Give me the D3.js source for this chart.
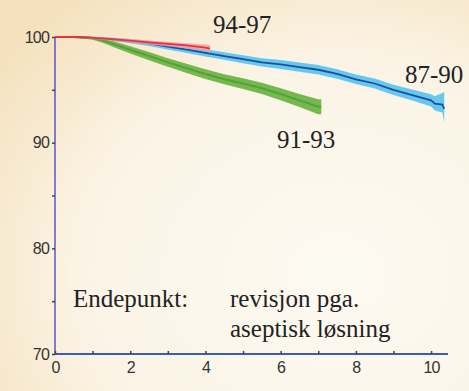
<!DOCTYPE html>
<html>
<head>
<meta charset="utf-8">
<script src="https://cdn.jsdelivr.net/npm/d3@7"></script>
<style>
  html, body { margin: 0; padding: 0; }
  svg { display: block; }
</style>
</head>
<body>
<svg id="chart" width="469" height="391"></svg>
<script>
// data
const years = [0, 2, 4, 6, 8, 10];
const yTicks = [70, 75, 80, 85, 90, 95, 100];
const yLabels = [70, 80, 90, 100];

// 94-97 (rød)
const t9497 = [0, 0.5, 0.8, 1, 1.5, 2, 2.5, 3, 3.5, 4, 4.12];
const v9497 = [100, 100, 99.97, 99.92, 99.8, 99.65, 99.5, 99.35, 99.2, 99.0, 98.9];
const lo9497 = [100, 100, 99.9, 99.82, 99.66, 99.48, 99.3, 99.12, 98.92, 98.7, 98.5];
const hi9497 = [100, 100, 100, 100, 99.92, 99.8, 99.68, 99.55, 99.42, 99.28, 99.25];

// 87-90 (blå)
const t8790 = [0, 0.5, 1, 1.5, 2, 2.5, 3, 3.5, 4, 4.5, 5, 5.5, 6, 6.5, 7, 7.5, 8, 8.5, 9, 9.5, 10, 10.1, 10.3, 10.35];
const v8790 = [100, 100, 99.95, 99.8, 99.6, 99.4, 99.1, 98.8, 98.5, 98.2, 97.9, 97.6, 97.4, 97.15, 96.9, 96.5, 96.0, 95.6, 95.0, 94.5, 94.0, 93.7, 93.6, 93.2];
const lo8790 = [100, 99.95, 99.85, 99.65, 99.4, 99.15, 98.82, 98.48, 98.16, 97.84, 97.52, 97.2, 96.98, 96.72, 96.46, 96.05, 95.55, 95.13, 94.52, 93.98, 93.42, 93.05, 92.85, 91.9];
const hi8790 = [100, 100, 100, 99.95, 99.8, 99.65, 99.38, 99.12, 98.84, 98.56, 98.28, 98.0, 97.82, 97.58, 97.34, 96.95, 96.45, 96.07, 95.48, 95.02, 94.58, 94.4, 94.7, 94.8];

// 91-93 (grønn)
const t9193 = [0, 0.5, 1, 1.25, 1.5, 2, 2.5, 3, 3.5, 4, 4.5, 5, 5.5, 6, 6.5, 7, 7.08];
const v9193 = [100, 100, 99.9, 99.7, 99.4, 98.8, 98.2, 97.6, 97.05, 96.5, 96.0, 95.6, 95.15, 94.6, 94.0, 93.4, 93.4];
const lo9193 = [100, 99.95, 99.75, 99.48, 99.12, 98.45, 97.8, 97.18, 96.6, 96.03, 95.52, 95.08, 94.6, 94.02, 93.38, 92.7, 92.7];
const hi9193 = [100, 100, 100, 99.9, 99.66, 99.12, 98.58, 98.0, 97.48, 96.95, 96.48, 96.1, 95.68, 95.16, 94.6, 94.1, 94.1];

const texts = {
  s9497: "94-97", s8790: "87-90", s9193: "91-93",
  end: "Endepunkt:", l1: "revisjon pga.", l2: "aseptisk løsning"
};

const svg = d3.select("#chart");
const W = 469, H = 391;
const serif = "'Liberation Serif'";
const sans = "'Liberation Sans', Arial, sans-serif";

// bakgrunn
const defs = svg.append("defs");
const grad = defs.append("radialGradient").attr("id", "bg")
  .attr("cx", "0.72").attr("cy", "0.7").attr("r", "0.9");
grad.append("stop").attr("offset", "0%").attr("stop-color", "#fdfaf2");
grad.append("stop").attr("offset", "60%").attr("stop-color", "#fbf4e6");
grad.append("stop").attr("offset", "100%").attr("stop-color", "#f5e1bd");
svg.append("rect").attr("width", W).attr("height", H).attr("fill", "url(#bg)");

const x = d3.scaleLinear().domain([0, 10.45]).range([55, 448]);
const y = d3.scaleLinear().domain([70, 100]).range([354, 37]);

// bånd og linjer
function band(ts, lo, hi) {
  return d3.area().x((d, i) => x(ts[i])).y0((d, i) => y(lo[i])).y1((d, i) => y(hi[i]))(ts);
}
function line(ts, vs) {
  return d3.line().x((d, i) => x(ts[i])).y((d, i) => y(vs[i]))(ts);
}

svg.append("path").attr("d", band(t8790, lo8790, hi8790)).attr("fill", "#56c3ee").attr("opacity", 0.9);
svg.append("path").attr("d", line(t8790, v8790)).attr("fill", "none").attr("stroke", "#1c4f9e").attr("stroke-width", 1.8);

svg.append("path").attr("d", band(t9193, lo9193, hi9193)).attr("fill", "#74b94f");
svg.append("path").attr("d", line(t9193, v9193)).attr("fill", "none").attr("stroke", "#56a03a").attr("stroke-width", 2);

svg.append("path").attr("d", band(t9497, lo9497, hi9497)).attr("fill", "#f2a0a6").attr("opacity", 0.85);
svg.append("path").attr("d", line(t9497, v9497)).attr("fill", "none").attr("stroke", "#e8323c").attr("stroke-width", 1.8);

// akser
const yAxis = svg.append("g").attr("transform", "translate(55,0)")
  .call(d3.axisLeft(y).tickValues(yTicks).tickSize(3).tickPadding(3)
    .tickFormat(d => yLabels.includes(d) ? d : ""));
yAxis.select(".domain").attr("stroke", "#5b56c9").attr("stroke-width", 1.5).attr("d", `M0,${y(70)}V${y(100)}`);
yAxis.selectAll(".tick line").attr("stroke", "#444").attr("stroke-width", 1.5);
yAxis.selectAll(".tick text").attr("font-size", 16).attr("font-family", sans)
  .attr("letter-spacing", -0.8).attr("fill", "#333");

const xAxis = svg.append("g").attr("transform", "translate(0,354)")
  .call(d3.axisBottom(x).tickValues(d3.range(0, 11)).tickSize(-3).tickPadding(8)
    .tickFormat(d => years.includes(d) ? d : ""));
xAxis.select(".domain").attr("stroke", "#3a5cc0").attr("stroke-width", 1.8).attr("d", `M${x(0)},0H${x(10.45)}`);
xAxis.selectAll(".tick line").attr("stroke", "#444").attr("stroke-width", 1.5);
xAxis.selectAll(".tick text").attr("font-size", 16).attr("font-family", sans)
  .attr("letter-spacing", -0.8).attr("fill", "#333");

// etiketter
function label(x0, y0, s) {
  svg.append("text").attr("x", x0).attr("y", y0).attr("font-size", 25)
    .attr("font-family", serif).attr("fill", "#222").text(s);
}
label(213, 33, texts.s9497);
label(405, 83, texts.s8790);
label(277, 148, texts.s9193);
label(73, 307, texts.end);
label(230, 307, texts.l1);
label(230, 337, texts.l2);
</script>
</body>
</html>
